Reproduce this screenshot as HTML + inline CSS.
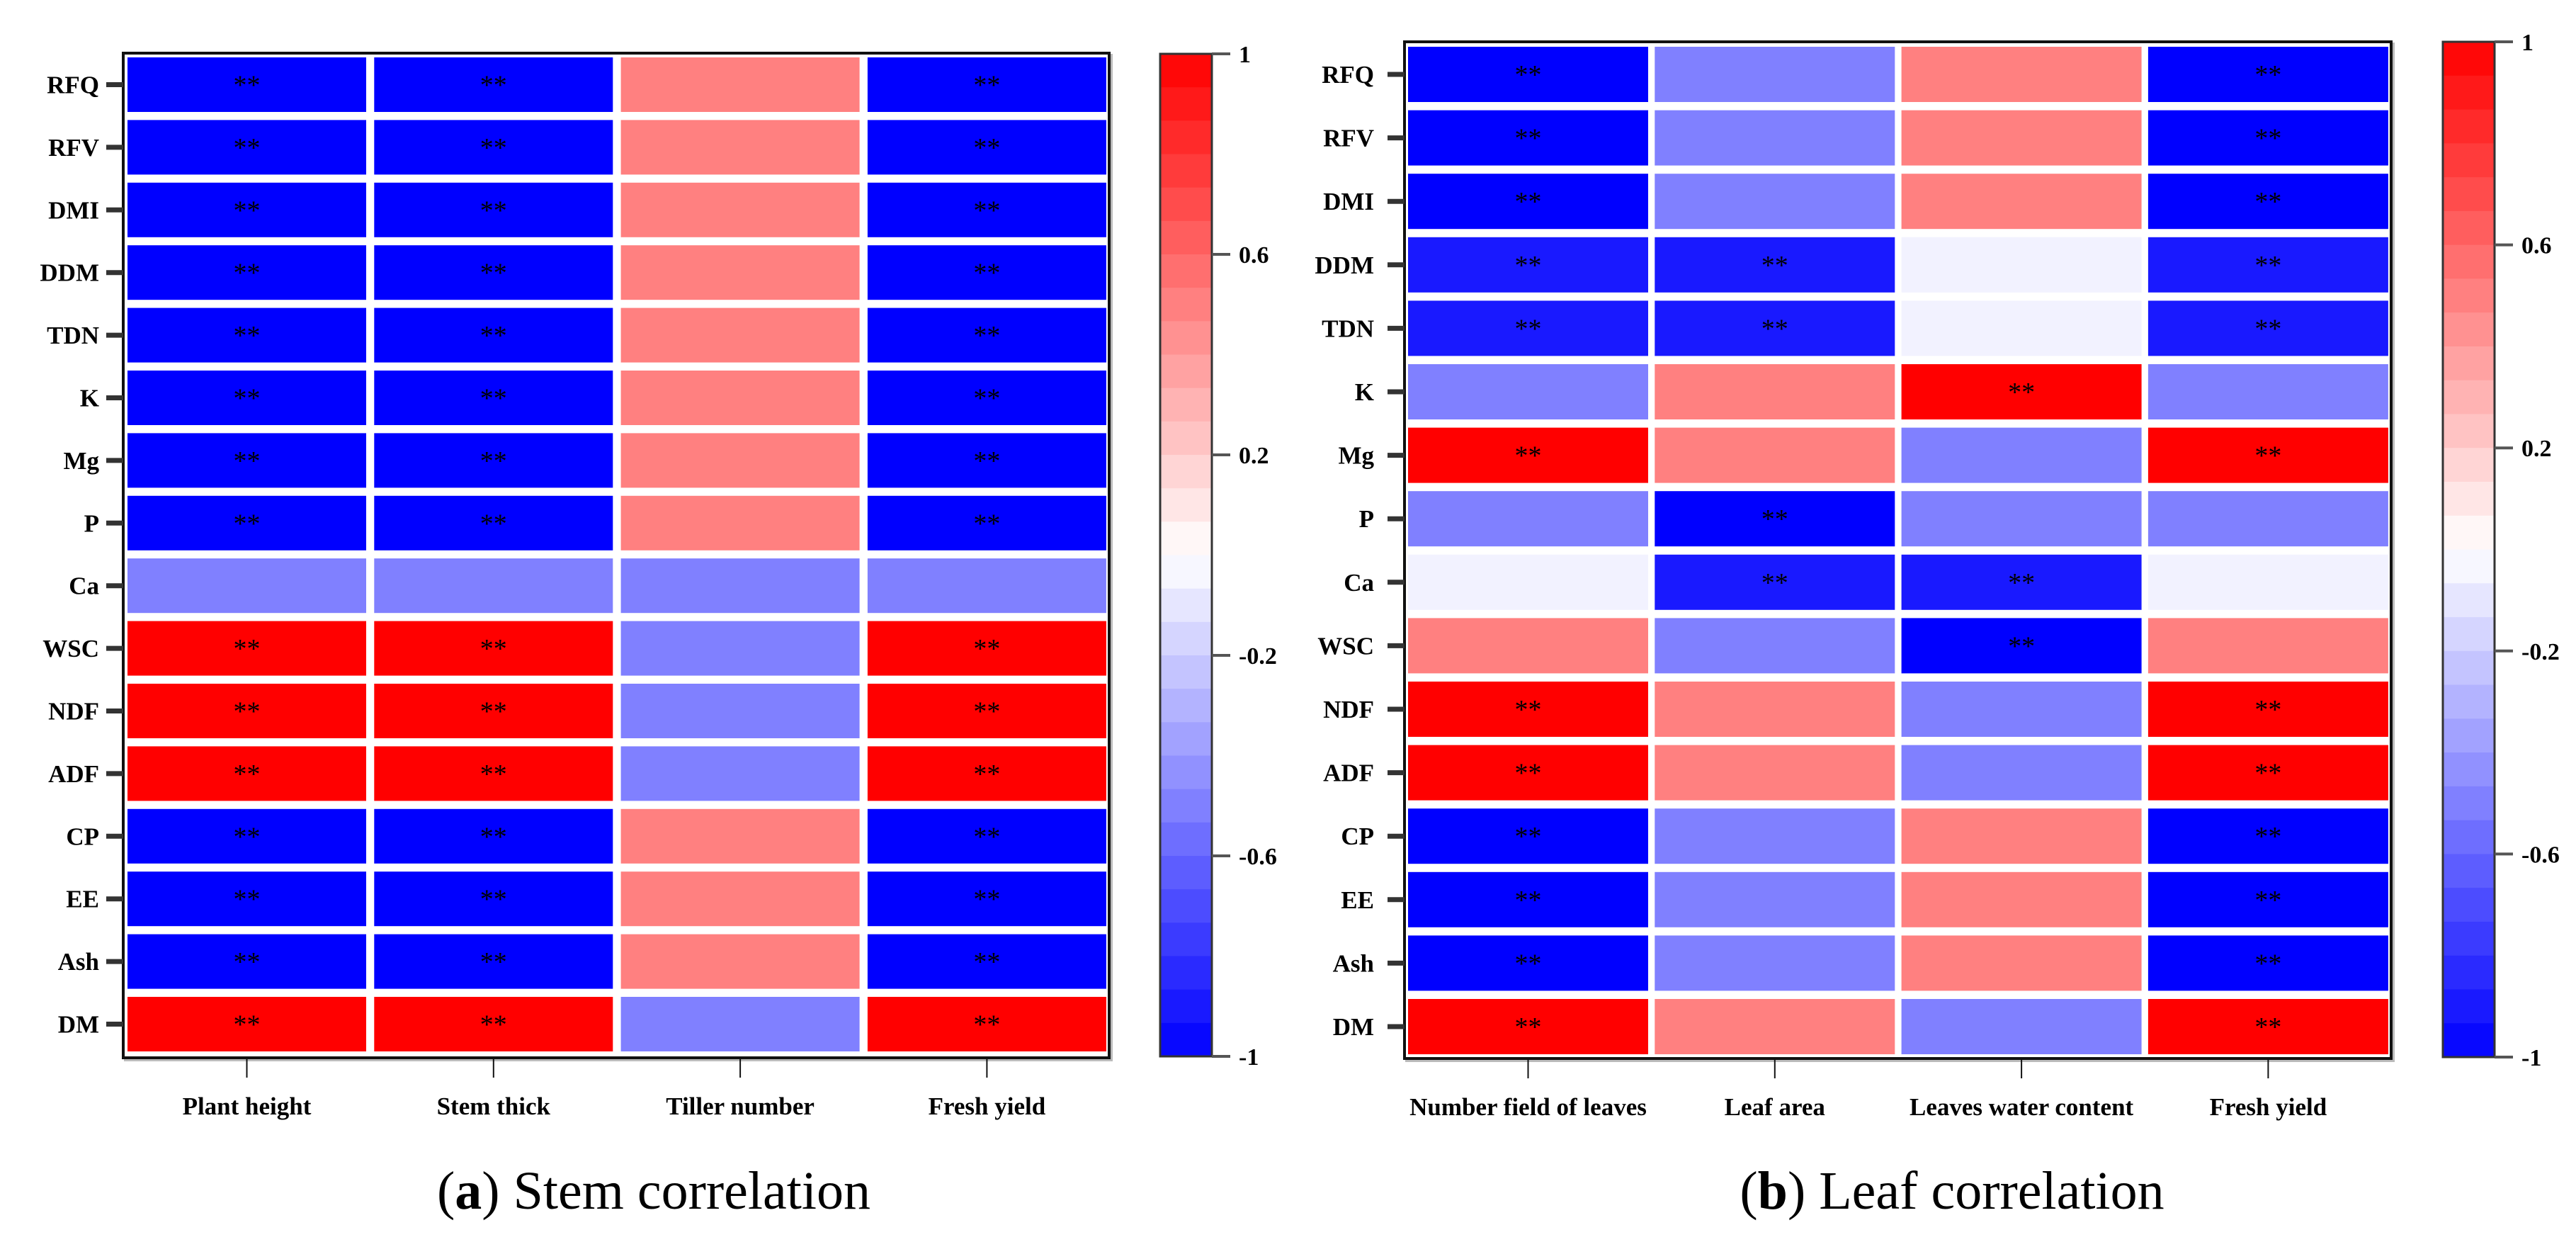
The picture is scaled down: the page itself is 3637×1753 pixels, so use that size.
<!DOCTYPE html>
<html><head><meta charset="utf-8"><style>
html,body{margin:0;padding:0;background:#fff;}
svg{display:block;}
text{font-family:"Liberation Serif",serif;}
</style></head><body>
<svg id="fig" width="3637" height="1753" viewBox="0 0 3637 1753" xmlns="http://www.w3.org/2000/svg">
<rect width="3637" height="1753" fill="#fff"/>
<g id="pa"></g>
<g id="pb"></g>
<text x="923" y="1706" font-size="76" text-anchor="middle">(<tspan font-weight="bold">a</tspan>) Stem correlation</text>
<text x="2756" y="1706" font-size="76" text-anchor="middle">(<tspan font-weight="bold">b</tspan>) Leaf correlation</text>
</svg>
<script>
const rows = ["RFQ","RFV","DMI","DDM","TDN","K","Mg","P","Ca","WSC","NDF","ADF","CP","EE","Ash","DM"];
const colsA = ["Plant height","Stem thick","Tiller number","Fresh yield"];
const colsB = ["Number field of leaves","Leaf area","Leaves water content","Fresh yield"];
const plantHeight = [-1,-1,-1,-1,-1,-1,-1,-1,-0.5,1,1,1,-1,-1,-1,1];
const stemThick   = [-1,-1,-1,-1,-1,-1,-1,-1,-0.5,1,1,1,-1,-1,-1,1];
const tillerNum   = [0.5,0.5,0.5,0.5,0.5,0.5,0.5,0.5,-0.5,-0.5,-0.5,-0.5,0.5,0.5,0.5,-0.5];
const freshYieldA = [-1,-1,-1,-1,-1,-1,-1,-1,-0.5,1,1,1,-1,-1,-1,1];
const sigA1 = [1,1,1,1,1,1,1,1,0,1,1,1,1,1,1,1];
const sigA2 = [1,1,1,1,1,1,1,1,0,1,1,1,1,1,1,1];
const sigA3 = [0,0,0,0,0,0,0,0,0,0,0,0,0,0,0,0];
const sigA4 = [1,1,1,1,1,1,1,1,0,1,1,1,1,1,1,1];
const leavesNum   = [-1,-1,-1,-0.9,-0.9,-0.5,1,-0.5,-0.05,0.5,1,1,-1,-1,-1,1];
const leafArea    = [-0.5,-0.5,-0.5,-0.9,-0.9,0.5,0.5,-1,-0.9,-0.5,0.5,0.5,-0.5,-0.5,-0.5,0.5];
const waterCont   = [0.5,0.5,0.5,-0.05,-0.05,1,-0.5,-0.5,-0.9,-1,-0.5,-0.5,0.5,0.5,0.5,-0.5];
const freshYieldB = [-1,-1,-1,-0.9,-0.9,-0.5,1,-0.5,-0.05,0.5,1,1,-1,-1,-1,1];
const sigB1 = [1,1,1,1,1,0,1,0,0,0,1,1,1,1,1,1];
const sigB2 = [0,0,0,1,1,0,0,1,1,0,0,0,0,0,0,0];
const sigB3 = [0,0,0,0,0,1,0,0,1,1,0,0,0,0,0,0];
const sigB4 = [1,1,1,1,1,0,1,0,0,0,1,1,1,1,1,1];
const cbTicks = [1,0.6,0.2,-0.2,-0.6,-1];
const cbTickLabels = ["1","0.6","0.2","-0.2","-0.6","-1"];

const NS="http://www.w3.org/2000/svg";
function mk(parent,tag,attrs){const e=document.createElementNS(NS,tag);for(const k in attrs)e.setAttribute(k,attrs[k]);parent.appendChild(e);return e;}
function color(v){
  let r,g,b;
  if(v>=0){r=255;g=b=Math.round(255*(1-v));}else{b=255;r=g=Math.round(255*(1+v));}
  return `rgb(${r},${g},${b})`;
}
function panel(g,cfg){
  const {cols,data,sig,fx0,fx1,fy0,fy1,cx0,cpitch,cw,ry0,rpitch,rh,labX,cbx0,cbx1,cby0,cby1}=cfg;
  const xC=i=>cx0+i*cpitch+cw/2;
  const yR=j=>ry0+j*rpitch+rh/2;
  const cbY=v=>cby0+(1-v)/2*(cby1-cby0);
  // frame background + shadow
  mk(g,'rect',{x:fx0+3,y:fy0+3,width:fx1-fx0,height:fy1-fy0,fill:'none',stroke:'#bbb','stroke-width':4});
  const f=mk(g,'rect',{x:fx0,y:fy0,width:fx1-fx0,height:fy1-fy0,fill:'#fff',stroke:'#111','stroke-width':4});
  
  
  data.forEach((series,i)=>{
    series.forEach((v,j)=>{
      const r=mk(g,'rect',{x:cx0+i*cpitch,y:ry0+j*rpitch,width:cw,height:rh,fill:color(v)});
      
      
      if(sig[i][j]){
        const t=mk(g,'text',{x:xC(i),y:yR(j)+13,'font-size':38,'text-anchor':'middle',fill:'#000'});
        t.textContent='**';
        
        
      }
    });
  });
  rows.forEach((lab,j)=>{
    mk(g,'line',{x1:fx0-24,x2:fx0,y1:yR(j),y2:yR(j),stroke:'#333','stroke-width':7});
    const t=mk(g,'text',{x:labX,y:yR(j)+12,'font-size':35,'font-weight':'bold','text-anchor':'end'});
    t.textContent=lab;
    
    
  });
  cols.forEach((lab,i)=>{
    mk(g,'line',{x1:xC(i),x2:xC(i),y1:fy1,y2:fy1+28,stroke:'#111','stroke-width':2});
    const t=mk(g,'text',{x:xC(i),y:fy1+80,'font-size':35,'font-weight':'bold','text-anchor':'middle'});
    t.textContent=lab;
    
    
  });
  // colorbar
  const N=30;
  for(let k=0;k<N;k++){
    const v1=1-2*k/N, v2=1-2*(k+1)/N;
    const r=mk(g,'rect',{x:cbx0,y:cbY(v1),width:cbx1-cbx0,height:cbY(v2)-cbY(v1)+0.5,fill:color((v1+v2)/2)});
    
    
  }
  mk(g,'rect',{x:cbx0,y:cby0,width:cbx1-cbx0,height:cby1-cby0,fill:'none',stroke:'#333','stroke-width':3});
  cbTicks.forEach((v,k)=>{
    mk(g,'line',{x1:cbx1,x2:cbx1+26,y1:cbY(v),y2:cbY(v),stroke:'#555','stroke-width':4});
    const t=mk(g,'text',{x:cbx1+38,y:cbY(v)+12,'font-size':34,'font-weight':'bold'});
    t.textContent=cbTickLabels[k];
    
    
  });
}
panel(document.getElementById('pa'),{cols:colsA,data:[plantHeight,stemThick,tillerNum,freshYieldA],sig:[sigA1,sigA2,sigA3,sigA4],
  fx0:174,fx1:1566,fy0:75,fy1:1493,cx0:180,cpitch:348.3,cw:337,ry0:81,rpitch:88.4,rh:77,labX:140,
  cbx0:1638,cbx1:1711,cby0:76,cby1:1491});
panel(document.getElementById('pb'),{cols:colsB,data:[leavesNum,leafArea,waterCont,freshYieldB],sig:[sigB1,sigB2,sigB3,sigB4],
  fx0:1983,fx1:3376,fy0:59,fy1:1494,cx0:1988,cpitch:348.3,cw:339,ry0:66,rpitch:89.6,rh:78,labX:1940,
  cbx0:3449,cbx1:3522,cby0:59,cby1:1492});
</script>
</body></html>
